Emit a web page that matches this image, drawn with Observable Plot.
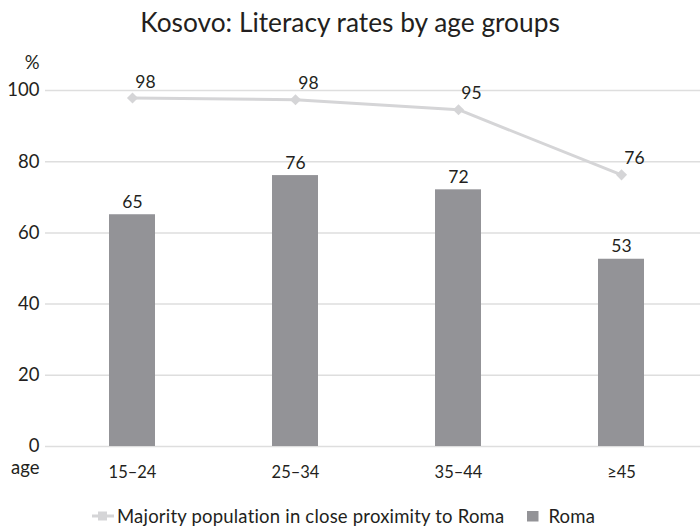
<!DOCTYPE html>
<html>
<head>
<meta charset="utf-8">
<script src="https://cdn.jsdelivr.net/npm/d3@7"></script>
<script src="https://cdn.jsdelivr.net/npm/@observablehq/plot@0.6"></script>
<style>
  body { margin: 0; background: #fff; }
  #wrap { position: relative; width: 700px; height: 527px; font-family: Lato, sans-serif; color: #231f20; }
  #title { position: absolute; top: 7px; left: 0; width: 700px; text-align: center; font-size: 26.3px; line-height: 30px; }
  #chart { position: absolute; top: 45px; left: 0; }
  #legend { position: absolute; top: 506px; left: 92px; font-size: 18.5px; letter-spacing: 0.2px; line-height: 20px; display: flex; align-items: center; white-space: nowrap; }
  #legend svg { display: block; }
</style>
</head>
<body>
<div id="wrap">
  <div id="title">Kosovo: Literacy rates by age groups</div>
  <div id="chart"></div>
  <div id="legend">
    <svg width="22" height="12"><line x1="0" x2="22" y1="6" y2="6" stroke="#d5d5d7" stroke-width="3"/><rect x="6" y="1.5" width="9" height="9" fill="#d5d5d7"/></svg>
    <span style="margin-left:3px">Majority population in close proximity to Roma</span>
    <svg width="12" height="11" style="margin-left:23px"><rect x="0" y="0" width="11.5" height="10.5" fill="#939397"/></svg>
    <span style="margin-left:9px">Roma</span>
  </div>
</div>
<script>
const ages = ["15–24", "25–34", "35–44", "≥45"];
const roma = [65.1, 76.1, 72.1, 52.6];
const romaLabels = [65, 76, 72, 53];
const majority = [97.9, 97.4, 94.6, 76.3];
const majorityLabels = [98, 98, 95, 76];
const yTicks = [0, 20, 40, 60, 80, 100];

const data = ages.map((a, i) => ({
  age: a, roma: roma[i], romaLabel: romaLabels[i],
  majority: majority[i], majorityLabel: majorityLabels[i]
}));

const chart = Plot.plot({
  width: 700,
  height: 450,
  marginTop: 45,
  marginBottom: 49,
  marginLeft: 45,
  marginRight: 0,
  style: { fontFamily: "Lato, sans-serif", color: "#231f20", background: "transparent" },
  x: { domain: ages, range: [50.5, 702.5], paddingInner: 0.72, paddingOuter: 0.36, label: null },
  y: { domain: [0, 100], label: null },
  marks: [
    Plot.ruleY(yTicks, { stroke: "#dedede", strokeWidth: 1.5 }),
    Plot.barY(data, { x: "age", y: "roma", fill: "#939397" }),
    Plot.line(data, { x: "age", y: "majority", stroke: "#d5d5d7", strokeWidth: 3 }),
    Plot.dot(data, { x: "age", y: "majority", symbol: "diamond2", r: 5, fill: "#d5d5d7", stroke: null }),
    Plot.text(data, { x: "age", y: "roma", text: "romaLabel", dy: -12.5, fontSize: 17.5, fill: "#231f20" }),
    Plot.text(data, { x: "age", y: "majority", text: "majorityLabel", dx: 13, dy: -16, fontSize: 17.5, fill: "#231f20" }),
    Plot.axisY({ ticks: yTicks, tickSize: 0, tickPadding: 6, fontSize: 18.5, label: null, fill: "#231f20" }),
    Plot.axisX({ tickSize: 0, tickPadding: 20, fontSize: 16.5, label: null, fill: "#231f20" }),
    Plot.text(["%"], { frameAnchor: "top-left", dx: -6, dy: -35, textAnchor: "end", fontSize: 18.5, fill: "#231f20" }),
    Plot.text(["age"], { frameAnchor: "bottom-left", dx: -6, dy: 27, textAnchor: "end", fontSize: 18.5, fill: "#231f20" })
  ]
});
document.getElementById("chart").appendChild(chart);
</script>
</body>
</html>
